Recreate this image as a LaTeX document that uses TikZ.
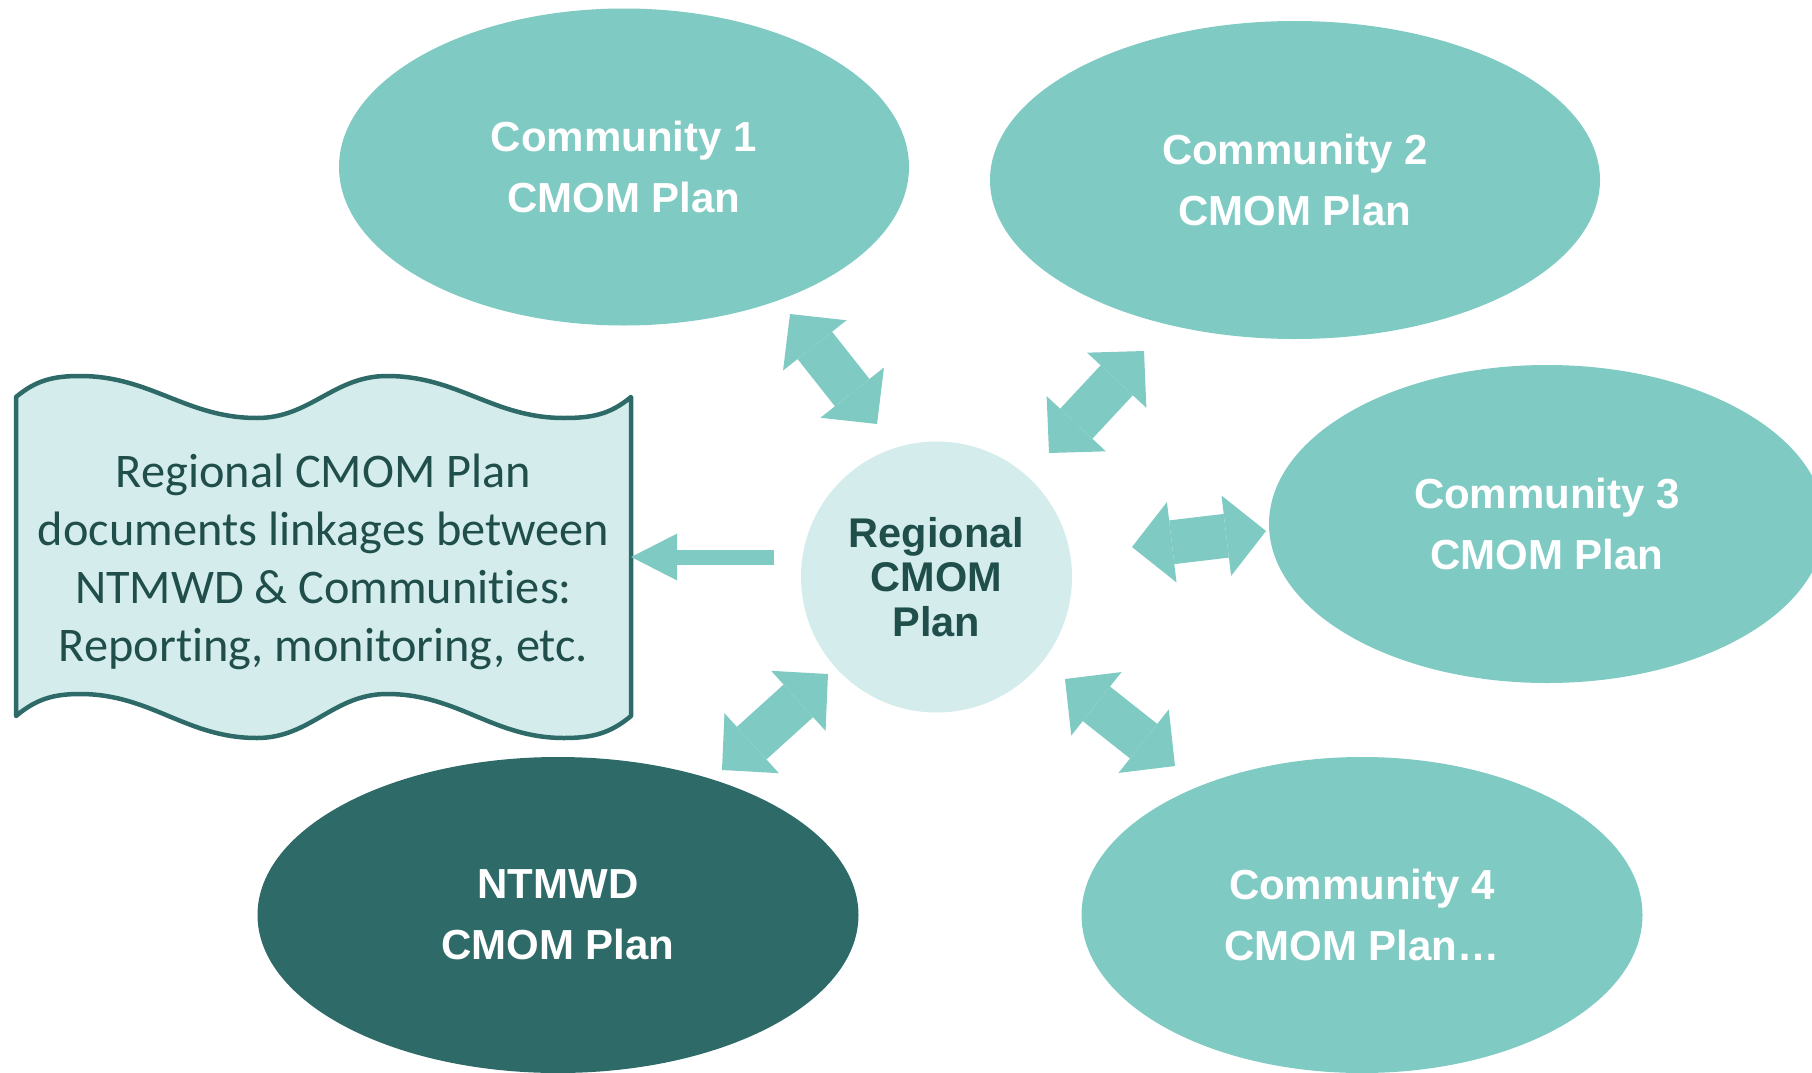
\documentclass[tikz,border=0pt]{standalone}
\usepackage{fontspec}
\setmainfont{Carlito}[Ligatures=NoCommon]
\setsansfont{Liberation Sans}
\usetikzlibrary{shapes.geometric,arrows.meta}

\definecolor{tealmid}{HTML}{7FCAC3}
\definecolor{tealdark}{HTML}{2E6B68}
\definecolor{teallight}{HTML}{D4ECEC}
\definecolor{tealtext}{HTML}{1F4E4B}

\tikzset{
  plan/.style={ellipse, fill=tealmid, text=white, inner sep=0pt, align=center,
    font=\sffamily\bfseries\fontsize{42}{61}\selectfont},
  biarrow/.style={draw=tealmid, line width=44pt,
    {Triangle[length=40pt,width=81pt,line width=0pt]}-{Triangle[length=40pt,width=81pt,line width=0pt]}},
  onearrow/.style={draw=tealmid, line width=15pt,
    -{Triangle[length=46pt,width=47pt,line width=0pt]}}
}

\begin{document}
\begin{tikzpicture}[x=1pt,y=1pt]
\useasboundingbox (0,0) rectangle (1812,-1073);

\node[plan, minimum width=570pt, minimum height=317pt] (c1) at (624,-167) {Community 1\\CMOM Plan};
\node[plan, minimum width=610pt, minimum height=318pt] (c2) at (1295,-180) {Community 2\\CMOM Plan};
\node[plan, minimum width=556pt, minimum height=318pt] (c3) at (1547,-524) {Community 3\\CMOM Plan};
\node[plan, minimum width=561pt, minimum height=316pt] (c4) at (1362,-915) {Community 4\\CMOM Plan…};
\node[plan, fill=tealdark, minimum width=601pt, minimum height=316pt] (ntmwd) at (558,-915) {NTMWD\\CMOM Plan};

\node[circle, fill=teallight, text=tealtext, inner sep=0pt, minimum size=271pt, align=center,
  font=\sffamily\bfseries\fontsize{41.5}{44.5}\selectfont] (reg) at (936.5,-577) {Regional\\CMOM\\Plan};

\filldraw[fill=teallight, draw=tealdark, line width=4.5pt, line join=round]
  (16,-397) to[out=40,in=180] (80,-376) to[out=0,in=180] (257,-418)
  to[out=0,in=180] (387,-376) to[out=0,in=180] (564,-418) to[out=0,in=220] (631,-397)
  -- (631,-716) to[out=220,in=0] (564,-738) to[out=180,in=0] (387,-694)
  to[out=180,in=0] (257,-738) to[out=180,in=0] (80,-694) to[out=180,in=40] (16,-716) -- cycle;
\node[text=tealtext, align=center, minimum width=615pt, minimum height=319pt,
  font=\fontsize{48.3}{57.8}\selectfont] (doc) at (323.5,-562)
  {Regional CMOM Plan\\documents linkages between\\NTMWD \& Communities:\\Reporting, monitoring, etc.};

\coordinate (a1) at (790,-314);  \coordinate (b1) at (877,-424);
\coordinate (a2) at (1144,-351); \coordinate (b2) at (1049,-453);
\coordinate (a3) at (1132,-547); \coordinate (b3) at (1266,-531);
\coordinate (a4) at (828,-674);  \coordinate (b4) at (722,-770);
\coordinate (a5) at (1065,-679); \coordinate (b5) at (1175,-766);
\coordinate (a6) at (774,-557);

\draw[biarrow] (a1) -- (b1);
\draw[biarrow] (a2) -- (b2);
\draw[biarrow] (a3) -- (b3);
\draw[biarrow] (a4) -- (b4);
\draw[biarrow] (a5) -- (b5);
\draw[onearrow] (a6) -- (a6 -| doc.east);
\end{tikzpicture}
\end{document}
